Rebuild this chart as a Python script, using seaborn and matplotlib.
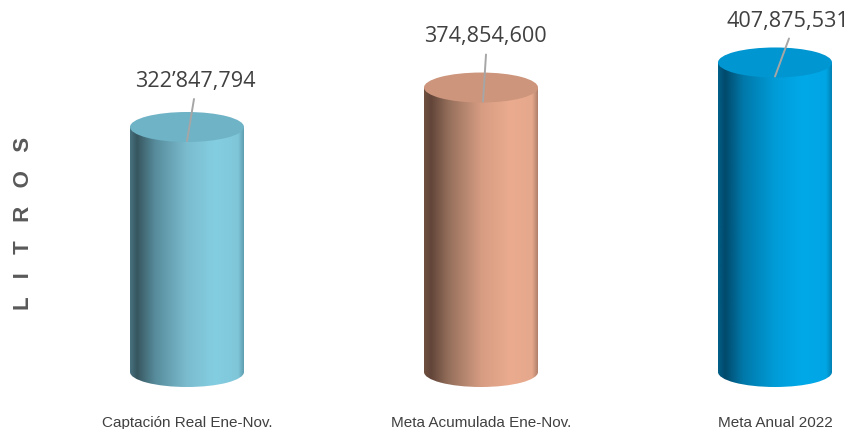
import numpy as np
import pandas as pd
import matplotlib
matplotlib.use("Agg")
import matplotlib.pyplot as plt
import seaborn as sns
from matplotlib.colors import LinearSegmentedColormap
from matplotlib.patches import Ellipse

categorias = ["Captación Real Ene-Nov.", "Meta Acumulada Ene-Nov.", "Meta Anual 2022"]
litros = [322847794, 374854600, 407875531]
etiquetas = ["322’847,794", "374,854,600", "407,875,531"]

# gradient stops for the cylinder walls and flat colour of each lid
paradas = [0.0, 0.06, 0.22, 0.50, 0.75, 0.95, 1.0]
gradientes = [
    ["#47727f", "#37565f", "#578c9c", "#7bbccf", "#84cee1", "#7fc6d9", "#5f9fb1"],
    ["#6f5040", "#624539", "#96705c", "#d69c82", "#eaab8f", "#e6a88c", "#b0806b"],
    ["#015f88", "#014a6c", "#0178a9", "#009cd8", "#00a9e9", "#00a5e4", "#0082b5"],
]
tapas = ["#6fb3c6", "#cd957c", "#0096d1"]

sns.set_theme(style="white")
plt.rcParams["font.family"] = ["Liberation Sans", "DejaVu Sans"]

W, H = 849, 429
px_y = 245 / litros[0]  # pixels per litre
px_x = 294              # pixels per category step
alto_elipse = 30 / px_y
ancho = 114 / px_x

fig = plt.figure(figsize=(W / 100, H / 100), dpi=100)
ax = fig.add_axes([60 / W, 1 - 395 / H, (W - 60) / W, 395 / H])

df = pd.DataFrame({"categoria": categorias, "litros": litros})
sns.barplot(data=df, x="categoria", y="litros", hue="categoria", palette=tapas,
            width=ancho, legend=False, ax=ax)

xlim = ((60 - 187) / px_x, (W - 187) / px_x)
ylim = (-23 / px_y, 372 / px_y)

grad = np.linspace(0, 1, 256).reshape(1, -1)
for i, barra in enumerate(list(ax.patches)[:3]):
    cmap = LinearSegmentedColormap.from_list("c%d" % i, list(zip(paradas, gradientes[i])))
    x0 = barra.get_x()
    x1 = x0 + barra.get_width()
    alto = barra.get_height()
    barra.set_edgecolor("none")

    # wall of the cylinder, rounded at the base
    base = Ellipse((i, 0), ancho, alto_elipse, transform=ax.transData,
                   facecolor="none", edgecolor="none")
    ax.add_patch(base)
    for forma, ext in [(barra, (x0, x1, 0, alto)), (base, (x0, x1, -alto_elipse, alto_elipse))]:
        im = ax.imshow(grad, cmap=cmap, extent=ext, aspect="auto", zorder=3)
        im.set_clip_path(forma)

    # lid
    tapa = Ellipse((i, alto), ancho, alto_elipse, facecolor=tapas[i], edgecolor="none", zorder=4)
    ax.add_patch(tapa)

# leader lines and labels, offsets in pixels from the lid centre (up positive)
inicio = [(0, -14), (2, -14), (0, -14)]
fin = [(7, 28), (5, 33), (14, 24)]
texto = [(8, 45), (4, 51), (13, 41)]
for i in range(3):
    y0 = litros[i]
    ax.plot([i + inicio[i][0] / px_x, i + fin[i][0] / px_x],
            [y0 + inicio[i][1] / px_y, y0 + fin[i][1] / px_y],
            color="#a6a6a6", lw=1.4, zorder=5)
    ax.text(i + texto[i][0] / px_x, y0 + texto[i][1] / px_y, etiquetas[i],
            ha="center", va="center", fontsize=15.6, color="#404040",
            family=["Open Sans", "DejaVu Sans"], zorder=6)

ax.set_xlim(xlim)
ax.set_ylim(ylim)
ax.set_xlabel("")
ax.set_ylabel("L   I   T   R   O   S", fontsize=16, fontweight="bold", color="#595959")
ax.yaxis.set_label_coords(-36 / (W - 60), (395 - 223) / 395)
ax.yaxis.label.set_va("center")
ax.set_yticks([])
ax.tick_params(axis="x", length=0, pad=15, labelsize=11, labelcolor="#404040")
sns.despine(ax=ax, left=True, bottom=True)
ax.patch.set_alpha(0)

fig.savefig("out.png", dpi=100)
